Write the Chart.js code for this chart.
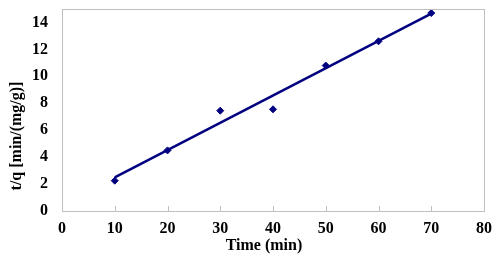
<!DOCTYPE html>
<html>
<head>
<meta charset="utf-8">
<script src="https://cdn.jsdelivr.net/npm/chart.js@4.4.1/dist/chart.umd.min.js"></script>
<style>
  html, body { margin: 0; padding: 0; background: #fff; }
  #wrap { width: 500px; height: 262px; }
</style>
</head>
<body>
<div id="wrap"><canvas id="chart" width="500" height="262"></canvas></div>
<script>
// measured points
var times = [10, 20, 30, 40, 50, 60, 70];
var tq = [2.25, 4.5, 7.45, 7.55, 10.8, 12.6, 14.7];
// fitted line, end points
var fitX = [10, 70];
var fitY = [2.5, 14.65];
// axis tick labels
var xTicks = [0, 10, 20, 30, 40, 50, 60, 70, 80];
var yTicks = [0, 2, 4, 6, 8, 10, 12, 14];

var navy = '#000080';
var frameColor = '#bfbfbf';
var font = { family: '"Liberation Serif", "Times New Roman", serif', size: 16, weight: 'bold' };

function toXY(xs, ys){
	var out = [];
	for (var i = 0; i < xs.length; i++){ out.push({ x: xs[i], y: ys[i] }); }
	return out;
}

function fixedTicks(values){
	return function(s){
		s.ticks = values.map(function(v){ return { value: v }; });
	};
}

// gray frame around the plot area + small inward ticks on the x axis
var framePlugin = {
	id: 'frame',
	afterDatasetsDraw: function(chart){
		var ctx = chart.ctx, a = chart.chartArea, sx = chart.scales.x;
		ctx.save();
		ctx.strokeStyle = frameColor;
		ctx.lineWidth = 1;
		ctx.strokeRect(Math.round(a.left) + 0.5, Math.round(a.top) + 0.5, Math.round(a.right - a.left), Math.round(a.bottom - a.top));
		ctx.beginPath();
		sx.ticks.forEach(function(t){
			var px = Math.round(sx.getPixelForValue(t.value)) + 0.5;
			ctx.moveTo(px, a.bottom);
			ctx.lineTo(px, a.bottom - 5);
		});
		ctx.stroke();
		ctx.restore();
	}
};

// axis titles placed like the original (Excel centres them on the chart)
var titlePlugin = {
	id: 'axisTitles',
	afterDraw: function(chart){
		var ctx = chart.ctx;
		ctx.save();
		ctx.fillStyle = '#000';
		ctx.font = 'bold 16px "Liberation Serif", "Times New Roman", serif';
		ctx.textAlign = 'center';
		ctx.textBaseline = 'middle';
		ctx.fillText('Time (min)', 264, 246);
		ctx.translate(17, 136);
		ctx.rotate(-Math.PI / 2);
		ctx.fillText('t/q [min/(mg/g)]', 0, 0);
		ctx.restore();
	}
};

new Chart(document.getElementById('chart'), {
	type: 'scatter',
	data: {
		datasets: [{
			label: 't/q',
			data: toXY(times, tq),
			pointStyle: 'rectRot',
			pointRadius: 3.5,
			pointHoverRadius: 3.5,
			backgroundColor: navy,
			borderColor: navy,
			borderWidth: 1,
			showLine: false,
			order: 1
		}, {
			label: 'fit',
			data: toXY(fitX, fitY),
			showLine: true,
			pointRadius: 0,
			borderColor: navy,
			borderWidth: 2.5,
			fill: false,
			order: 2
		}]
	},
	options: {
		responsive: false,
		animation: false,
		events: [],
		layout: { padding: { left: 0, right: 16, top: 9, bottom: 5 } },
		plugins: {
			legend: { display: false },
			tooltip: { enabled: false }
		},
		scales: {
			x: {
				type: 'linear',
				min: 0, max: 80,
				afterBuildTicks: fixedTicks(xTicks),
				afterFit: function(s){ s.height = 46; s.paddingLeft = 0; s.paddingRight = 0; },
				grid: { display: false, drawTicks: false },
				border: { display: false },
				ticks: { padding: 8, color: '#000', font: font, maxRotation: 0, autoSkip: false }
			},
			y: {
				type: 'linear',
				min: 0, max: 15,
				afterBuildTicks: fixedTicks(yTicks),
				afterFit: function(s){ s.width = 62; s.paddingTop = 0; s.paddingBottom = 0; },
				grid: { display: false, drawTicks: false },
				border: { display: false },
				ticks: { padding: 14, color: '#000', font: font, autoSkip: false }
			}
		}
	},
	plugins: [framePlugin, titlePlugin]
});
</script>
</body>
</html>
